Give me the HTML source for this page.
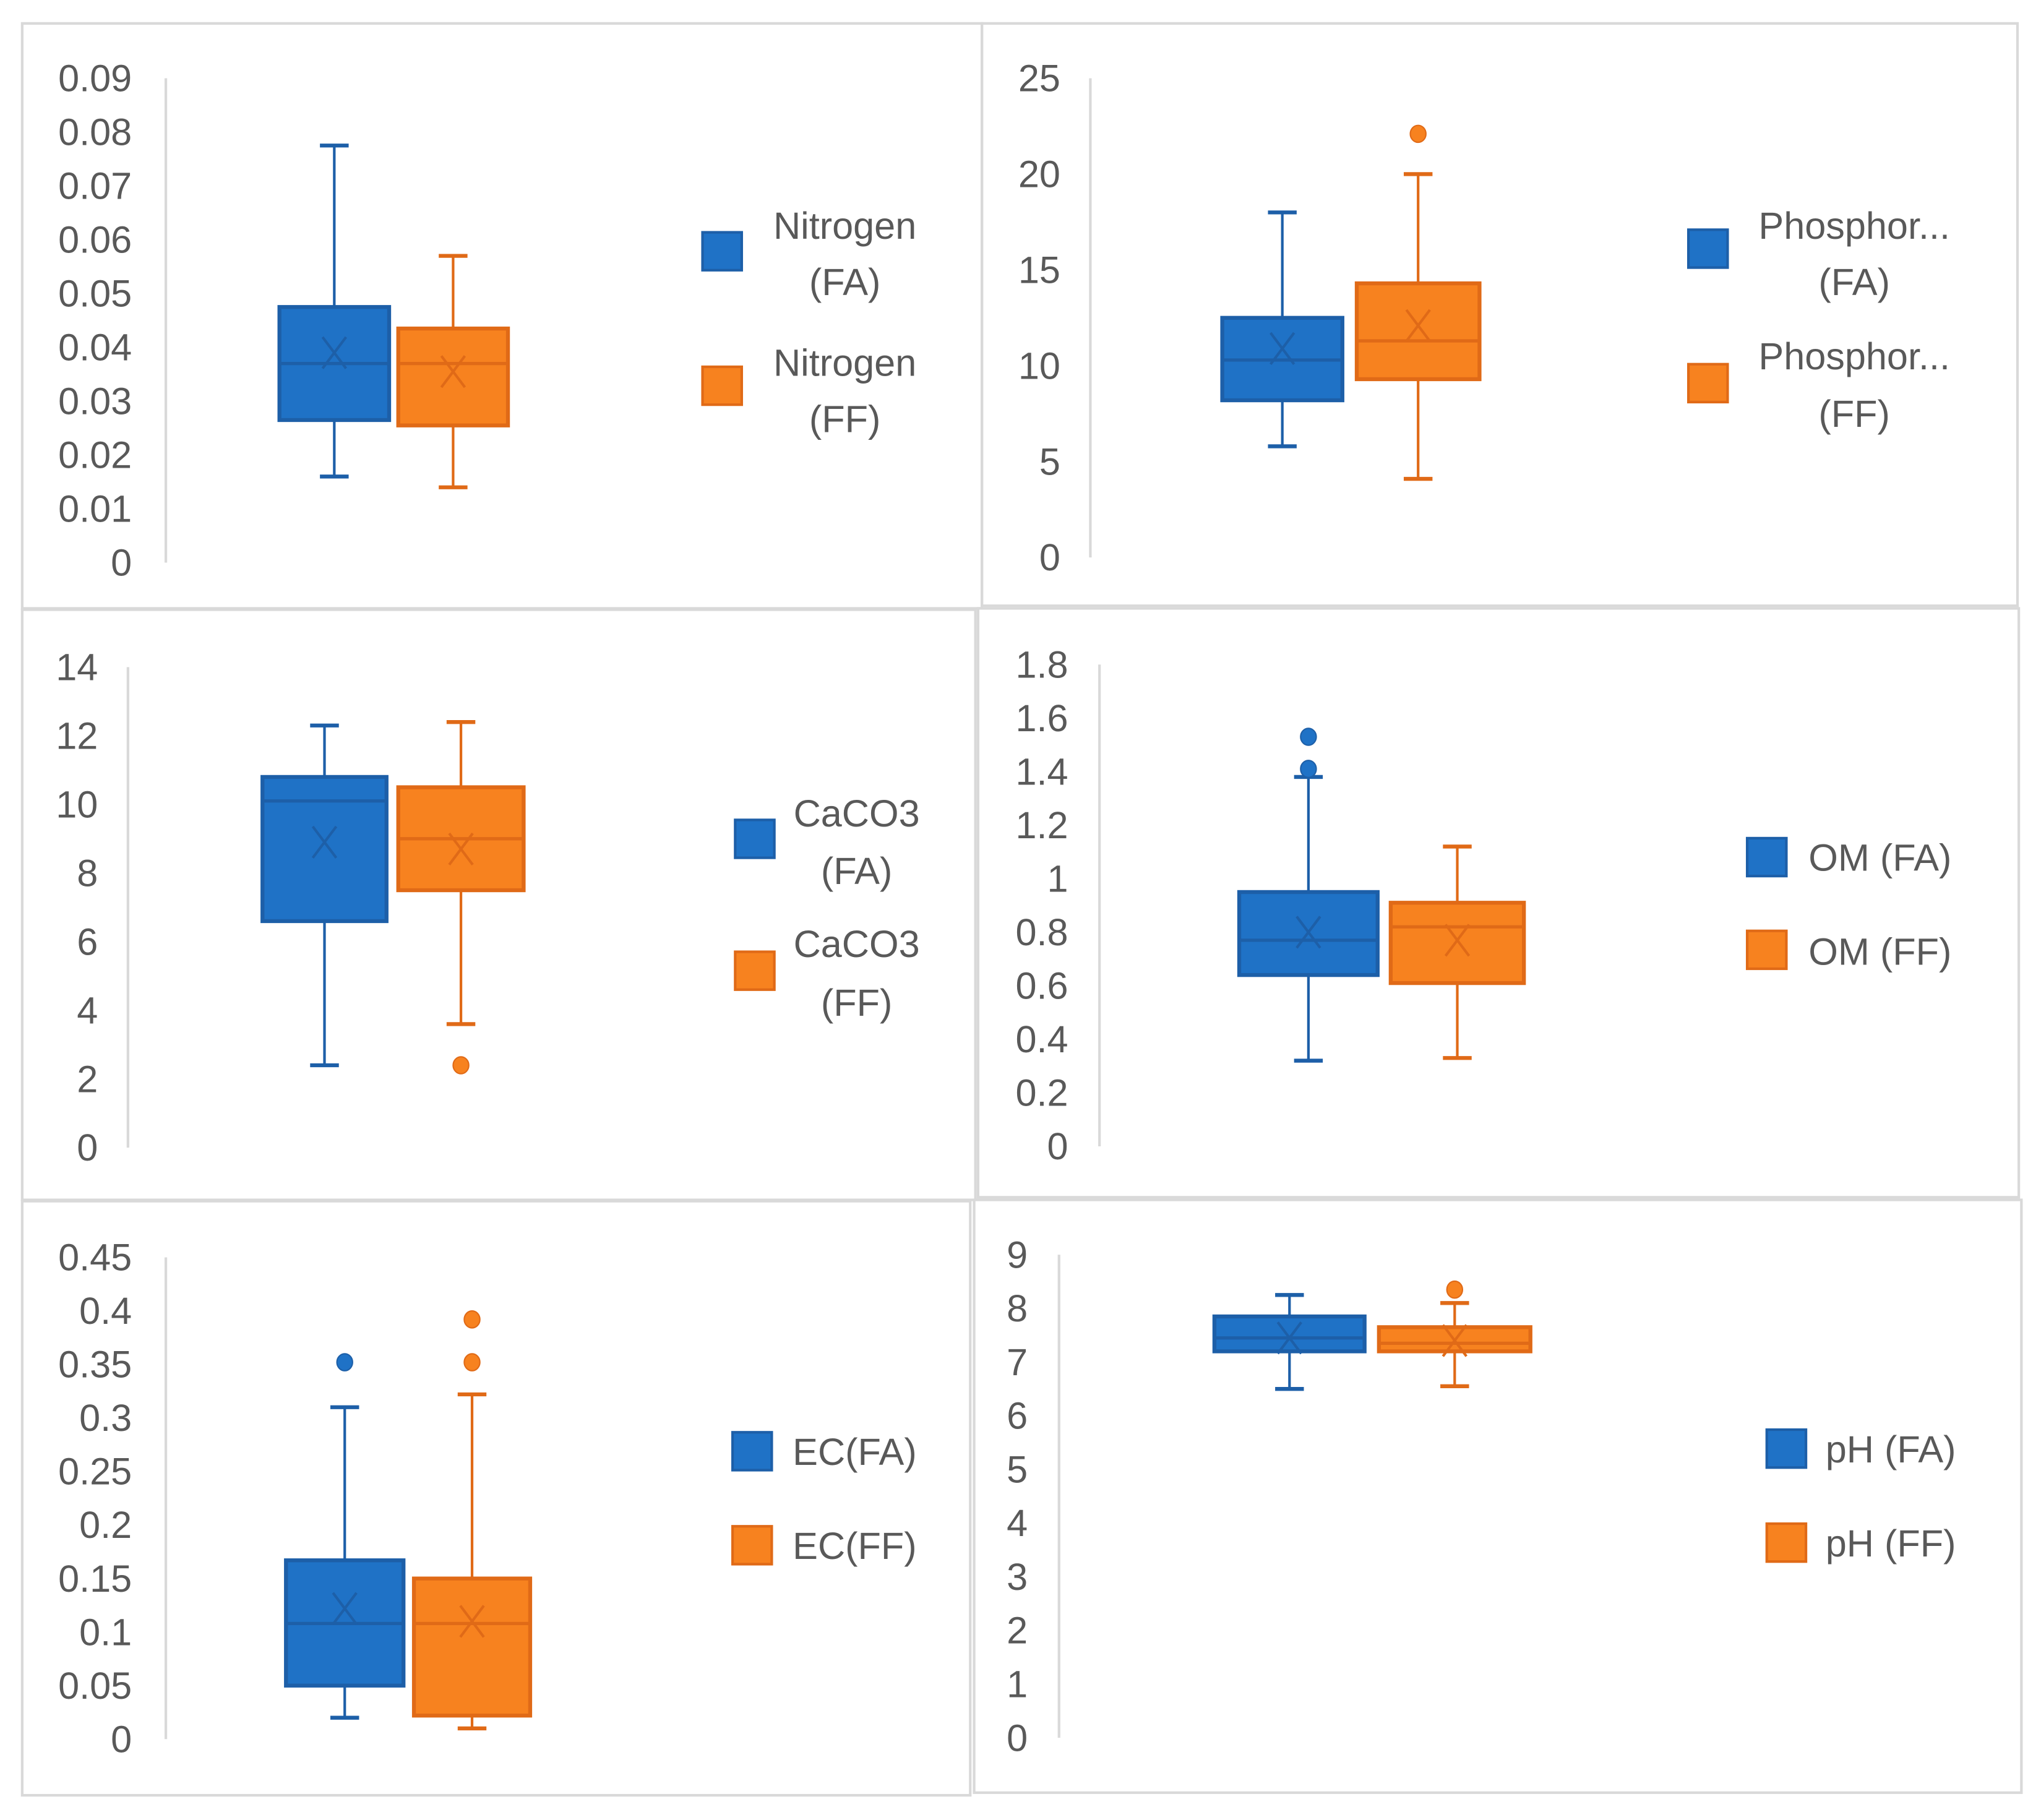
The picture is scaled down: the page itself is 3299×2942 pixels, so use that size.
<!DOCTYPE html>
<html><head><meta charset="utf-8"><style>
html,body{margin:0;padding:0;background:#fff;}
svg{display:block;}
text{font-family:"Liberation Sans",sans-serif;fill:#595959;}
</style></head><body>
<svg id="root" width="3299" height="2942" viewBox="0 0 1563 1392" xmlns="http://www.w3.org/2000/svg"></svg>
<script>
// ---- data (stats per series: [FA, FF]) ----
const seriesNames = ["FA", "FF"];
const nitrogenMin = [0.016, 0.014];
const nitrogenQ1 = [0.0265, 0.0255];
const nitrogenMedian = [0.037, 0.037];
const nitrogenQ3 = [0.0475, 0.0435];
const nitrogenMax = [0.0775, 0.057];
const nitrogenMean = [0.039, 0.0355];
const nitrogenOutliers = [[], []];
const nitrogenTicks = ["0","0.01","0.02","0.03","0.04","0.05","0.06","0.07","0.08","0.09"];

const phosMin = [5.8, 4.1];
const phosQ1 = [8.2, 9.3];
const phosMedian = [10.3, 11.3];
const phosQ3 = [12.5, 14.3];
const phosMax = [18, 20];
const phosMean = [10.9, 12.1];
const phosOutliers = [[], [22.1]];
const phosTicks = ["0","5","10","15","20","25"];

const caco3Min = [2.4, 3.6];
const caco3Q1 = [6.6, 7.5];
const caco3Median = [10.1, 9.0];
const caco3Q3 = [10.8, 10.5];
const caco3Max = [12.3, 12.4];
const caco3Mean = [8.9, 8.7];
const caco3Outliers = [[], [2.4]];
const caco3Ticks = ["0","2","4","6","8","10","12","14"];

const omMin = [0.32, 0.33];
const omQ1 = [0.64, 0.61];
const omMedian = [0.77, 0.82];
const omQ3 = [0.95, 0.91];
const omMax = [1.38, 1.12];
const omMean = [0.80, 0.77];
const omOutliers = [[1.41, 1.53], []];
const omTicks = ["0","0.2","0.4","0.6","0.8","1","1.2","1.4","1.6","1.8"];

const ecMin = [0.02, 0.01];
const ecQ1 = [0.05, 0.022];
const ecMedian = [0.108, 0.108];
const ecQ3 = [0.167, 0.15];
const ecMax = [0.31, 0.322];
const ecMean = [0.122, 0.11];
const ecOutliers = [[0.352], [0.352, 0.392]];
const ecTicks = ["0","0.05","0.1","0.15","0.2","0.25","0.3","0.35","0.4","0.45"];

const phMin = [6.5, 6.55];
const phQ1 = [7.2, 7.2];
const phMedian = [7.45, 7.35];
const phQ3 = [7.85, 7.65];
const phMax = [8.25, 8.1];
const phMean = [7.45, 7.4];
const phOutliers = [[], [8.35]];
const phTicks = ["0","1","2","3","4","5","6","7","8","9"];

// ---- layout ----
const NS = "http://www.w3.org/2000/svg";
const root = document.getElementById("root");
const FILL = ["#1f72c6", "#f7821f"];
const STROKE = ["#1d5fa8", "#e06a17"];

function mk(tag, attrs, parent) {
  const e = document.createElementNS(NS, tag);
  for (const k in attrs) e.setAttribute(k, attrs[k]);
  (parent || root).appendChild(e);
  return e;
}

const panels = [
  {key:"nitrogen", frame:[17,17,735,448], ax:127, yTop:59, yBot:430, vmax:0.09, ticks:nitrogenTicks, lx:101,
   boxes:[[214,298],[305,389]], stats:[nitrogenMin,nitrogenQ1,nitrogenMedian,nitrogenQ3,nitrogenMax,nitrogenMean,nitrogenOutliers],
   leg:{sq:538, y:[177,280], type:"two", tx:647, lines:[["Nitrogen","(FA)"],["Nitrogen","(FF)"]], ty:[[172,215],[277,320]]}},
  {key:"phosphorus", frame:[752,17,793,446], ax:835, yTop:59, yBot:426, vmax:25, ticks:phosTicks, lx:812,
   boxes:[[936,1028],[1039,1133]], stats:[phosMin,phosQ1,phosMedian,phosQ3,phosMax,phosMean,phosOutliers],
   leg:{sq:1293, y:[175,278], type:"two", tx:1420, lines:[["Phosphor...","(FA)"],["Phosphor...","(FF)"]], ty:[[172,215],[272,316]]}},
  {key:"caco3", frame:[17,466,730,452], ax:98, yTop:510, yBot:878, vmax:14, ticks:caco3Ticks, lx:75,
   boxes:[[201,296],[305,401]], stats:[caco3Min,caco3Q1,caco3Median,caco3Q3,caco3Max,caco3Mean,caco3Outliers],
   leg:{sq:563, y:[627,728], type:"two", tx:656, lines:[["CaCO3","(FA)"],["CaCO3","(FF)"]], ty:[[622,666],[722,767]]}},
  {key:"om", frame:[749,465,797,451], ax:842, yTop:508, yBot:877, vmax:1.8, ticks:omTicks, lx:818,
   boxes:[[949,1055],[1065,1167]], stats:[omMin,omQ1,omMedian,omQ3,omMax,omMean,omOutliers],
   leg:{sq:1338, y:[641,712], type:"one", tx:1385, lines:[["OM (FA)"],["OM (FF)"]], ty:[[656],[728]]}},
  {key:"ec", frame:[17,919,726,455], ax:127, yTop:962, yBot:1331, vmax:0.45, ticks:ecTicks, lx:101,
   boxes:[[219,309],[317,406]], stats:[ecMin,ecQ1,ecMedian,ecQ3,ecMax,ecMean,ecOutliers],
   leg:{sq:561, y:[1096,1168], type:"one", tx:607, lines:[["EC(FA)"],["EC(FF)"]], ty:[[1111],[1183]]}},
  {key:"ph", frame:[746,918,802,454], ax:811, yTop:960, yBot:1330, vmax:9, ticks:phTicks, lx:787,
   boxes:[[930,1045],[1056,1172]], stats:[phMin,phQ1,phMedian,phQ3,phMax,phMean,phOutliers],
   leg:{sq:1353, y:[1094,1166], type:"one", tx:1398, lines:[["pH (FA)"],["pH (FF)"]], ty:[[1109],[1181]]}}
];

panels.forEach(p => {
  const g = mk("g", {});
  
  
  const fr = mk("rect", {x:p.frame[0], y:p.frame[1], width:p.frame[2], height:p.frame[3], fill:"#fff", stroke:"#d9d9d9", "stroke-width":2}, g);
  
  
  const y = v => p.yBot - (v / p.vmax) * (p.yBot - p.yTop);
  const axis = mk("line", {x1:p.ax, x2:p.ax, y1:p.yTop, y2:p.yBot, stroke:"#d9d9d9", "stroke-width":2}, g);
  
  
  const n = p.ticks.length - 1;
  p.ticks.forEach((t, i) => {
    const tv = p.vmax * i / n;
    const tx = mk("text", {x:p.lx, y:y(tv) + 10, "text-anchor":"end", "font-size":29}, g);
    tx.textContent = t;
    
    
  });
  const [mins, q1s, meds, q3s, maxs, means, outs] = p.stats;
  for (let s = 0; s < 2; s++) {
    const [x0, x1] = p.boxes[s];
    const cx = (x0 + x1) / 2;
    const col = STROKE[s];
    const bg = mk("g", {}, g);
    
    
    mk("line", {x1:cx, x2:cx, y1:y(maxs[s]), y2:y(q3s[s]), stroke:col, "stroke-width":2}, bg);
    mk("line", {x1:cx, x2:cx, y1:y(q1s[s]), y2:y(mins[s]), stroke:col, "stroke-width":2}, bg);
    mk("line", {x1:cx-11, x2:cx+11, y1:y(maxs[s]), y2:y(maxs[s]), stroke:col, "stroke-width":3}, bg);
    mk("line", {x1:cx-11, x2:cx+11, y1:y(mins[s]), y2:y(mins[s]), stroke:col, "stroke-width":3}, bg);
    mk("rect", {x:x0, y:y(q3s[s]), width:x1-x0, height:y(q1s[s])-y(q3s[s]), fill:FILL[s], stroke:col, "stroke-width":3}, bg);
    mk("line", {x1:x0, x2:x1, y1:y(meds[s]), y2:y(meds[s]), stroke:col, "stroke-width":2.5}, bg);
    const my = y(means[s]);
    mk("path", {d:`M${cx-9},${my-12}L${cx+9},${my+12}M${cx+9},${my-12}L${cx-9},${my+12}`, stroke:col, "stroke-width":2, fill:"none"}, bg);
    outs[s].forEach(o => {
      const c = mk("ellipse", {cx:cx, cy:y(o), rx:6, ry:6.5, fill:FILL[s], stroke:col, "stroke-width":1}, bg);
      
      
    });
    // legend
    const lg = mk("g", {}, g);
    
    
    mk("rect", {x:p.leg.sq, y:p.leg.y[s], width:30, height:29, fill:FILL[s], stroke:col, "stroke-width":2}, lg);
    p.leg.lines[s].forEach((ln, k) => {
      const t = mk("text", {x:p.leg.tx, y:p.leg.ty[s][k] + 10, "font-size":29,
        "text-anchor": p.leg.type === "two" ? "middle" : "start"}, lg);
      t.textContent = ln;
    });
  }
});
</script>
</body></html>
